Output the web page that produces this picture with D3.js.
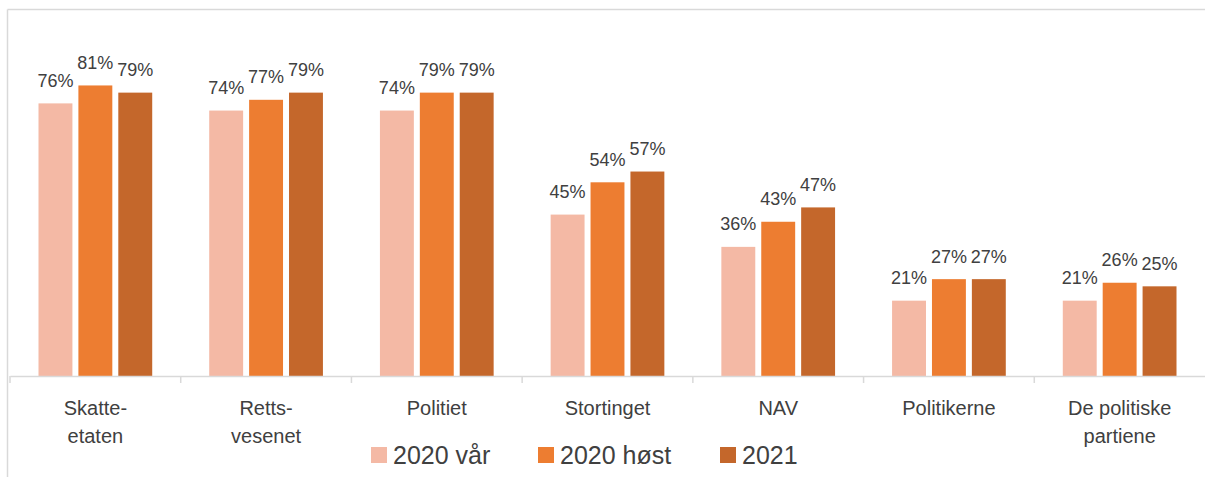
<!DOCTYPE html>
<html>
<head>
<meta charset="utf-8">
<script src="https://cdn.jsdelivr.net/npm/d3@7"></script>
<style>
  body { margin: 0; background: #fff; overflow: hidden; }
  svg { display: block; font-family: "Liberation Sans", Arial, sans-serif; }
</style>
</head>
<body>
<div id="chart"></div>
<script>
// categories (multi-line labels) and series
const categories = [
  ["Skatte-", "etaten"],
  ["Retts-", "vesenet"],
  ["Politiet"],
  ["Stortinget"],
  ["NAV"],
  ["Politikerne"],
  ["De politiske", "partiene"]
];
const seriesNames = ["2020 vår", "2020 høst", "2021"];
const vaar2020 = [76, 74, 74, 45, 36, 21, 21];
const hoest2020 = [81, 77, 79, 54, 43, 27, 26];
const aar2021 = [79, 79, 79, 57, 47, 27, 25];
const colors = ["#F4B9A5", "#ED7D31", "#C4672B"];

const width = 1205, height = 477;

const svg = d3.select("#chart").append("svg")
  .attr("width", width)
  .attr("height", height);

// outer frame (only top and left edges visible, as in the screenshot)
svg.append("line")
  .attr("x1", 7.5).attr("x2", width)
  .attr("y1", 9.5).attr("y2", 9.5)
  .attr("stroke", "#D9D9D9").attr("stroke-width", 1.5);
svg.append("line")
  .attr("x1", 7.5).attr("x2", 7.5)
  .attr("y1", 9.5).attr("y2", height)
  .attr("stroke", "#D9D9D9").attr("stroke-width", 1.5);

const catKeys = categories.map(c => c.join(" "));

const x0 = d3.scaleBand()
  .domain(catKeys)
  .range([10, 1205])
  .padding(0);

const x1 = d3.scaleBand()
  .domain(seriesNames)
  .range([28.5, x0.bandwidth() - 28.5])
  .paddingInner(0.15);

const y = d3.scaleLinear()
  .domain([0, 100])
  .range([376, 17.3]);

const seriesValues = [vaar2020, hoest2020, aar2021];
const rows = catKeys.map((k, i) => ({
  key: k,
  values: seriesNames.map((s, j) => ({series: s, value: seriesValues[j][i], color: colors[j]}))
}));

const groups = svg.selectAll("g.cat")
  .data(rows)
  .enter().append("g")
  .attr("class", "cat")
  .attr("transform", d => `translate(${x0(d.key)},0)`);

groups.selectAll("rect")
  .data(d => d.values)
  .enter().append("rect")
  .attr("x", d => x1(d.series))
  .attr("y", d => y(d.value))
  .attr("width", x1.bandwidth())
  .attr("height", d => y(0) - y(d.value))
  .attr("fill", d => d.color);

// value labels
groups.selectAll("text.val")
  .data(d => d.values)
  .enter().append("text")
  .attr("class", "val")
  .attr("x", d => x1(d.series) + x1.bandwidth() / 2)
  .attr("y", d => y(d.value) - 16.5)
  .attr("text-anchor", "middle")
  .attr("font-size", 18)
  .attr("fill", "#404040")
  .text(d => d.value + "%");

// x axis
const xAxis = svg.append("g")
  .attr("transform", "translate(0,376)")
  .call(d3.axisBottom(x0).tickSize(0).tickFormat(""));
xAxis.select(".domain").attr("stroke", "#D9D9D9").attr("stroke-width", 1.5);

// tick marks between categories
const bounds = catKeys.map(k => x0(k));
xAxis.selectAll("line.sep")
  .data(bounds)
  .enter().append("line")
  .attr("class", "sep")
  .attr("x1", d => d).attr("x2", d => d)
  .attr("y1", 0).attr("y2", 7)
  .attr("stroke", "#D9D9D9")
  .attr("stroke-width", 1.5);

// category labels
const catLabels = svg.selectAll("text.cat")
  .data(categories)
  .enter().append("text")
  .attr("class", "cat")
  .attr("text-anchor", "middle")
  .attr("font-size", 20)
  .attr("fill", "#404040")
  .attr("transform", (d, i) => `translate(${x0(catKeys[i]) + x0.bandwidth() / 2},415)`);
catLabels.selectAll("tspan")
  .data(d => d)
  .enter().append("tspan")
  .attr("x", 0)
  .attr("y", (d, i) => i * 27.7)
  .text(d => d);

// legend
const legendX = [371, 538, 720];
const legend = svg.selectAll("g.leg")
  .data(seriesNames)
  .enter().append("g")
  .attr("class", "leg")
  .attr("transform", (d, i) => `translate(${legendX[i]},447)`);
legend.append("rect")
  .attr("width", 16).attr("height", 16)
  .attr("fill", (d, i) => colors[i]);
legend.append("text")
  .attr("x", 22).attr("y", 16.5)
  .attr("font-size", 25)
  .attr("fill", "#404040")
  .text(d => d);
</script>
</body>
</html>
